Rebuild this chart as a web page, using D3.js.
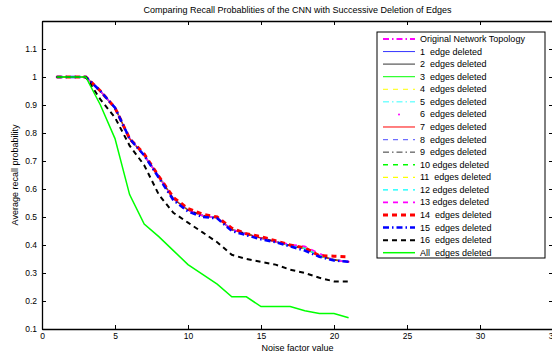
<!DOCTYPE html>
<html>
<head>
<meta charset="utf-8">
<script src="https://cdn.jsdelivr.net/npm/d3@7"></script>
<style>
  body { margin: 0; background: #fff; }
  svg { display: block; font-family: "Liberation Sans", Arial, Helvetica, sans-serif; }
</style>
</head>
<body>
<div id="chart"></div>
<script>
// noise factor values
const noise = [1, 2, 3, 4, 5, 6, 7, 8, 9, 10, 11, 12, 13, 14, 15, 16, 17, 18, 19, 20, 21];

// recall curves (most topologies overlap almost exactly)
const mainRecall = [1, 1, 1, 0.95, 0.89, 0.78, 0.72, 0.645, 0.565, 0.525, 0.505, 0.497, 0.455, 0.44, 0.425, 0.412, 0.398, 0.388, 0.362, 0.347, 0.34];
const recall13 = [1, 1, 1, 0.95, 0.89, 0.78, 0.72, 0.645, 0.565, 0.525, 0.505, 0.497, 0.455, 0.44, 0.425, 0.412, 0.402, 0.395, 0.37, 0.345, 0.34];
const recall14 = [1, 1, 1, 0.95, 0.89, 0.78, 0.725, 0.645, 0.57, 0.53, 0.51, 0.5, 0.46, 0.44, 0.43, 0.415, 0.4, 0.39, 0.362, 0.36, 0.358];
const recall15 = [1, 1, 1, 0.95, 0.89, 0.78, 0.72, 0.64, 0.56, 0.52, 0.5, 0.495, 0.45, 0.435, 0.42, 0.41, 0.395, 0.38, 0.358, 0.345, 0.34];
const recall16 = [1, 1, 1, 0.92, 0.855, 0.755, 0.685, 0.58, 0.515, 0.48, 0.445, 0.41, 0.365, 0.35, 0.34, 0.33, 0.312, 0.3, 0.283, 0.27, 0.27];
const recallAll = [1, 1, 1, 0.9, 0.78, 0.58, 0.475, 0.43, 0.38, 0.33, 0.295, 0.26, 0.215, 0.215, 0.18, 0.18, 0.18, 0.165, 0.155, 0.155, 0.14];

const legendLabels = [
  'Original Network Topology', '1  edge deleted', '2  edges deleted', '3  edges deleted',
  '4  edges deleted', '5  edges deleted', '6  edges deleted', '7  edges deleted',
  '8  edges deleted', '9  edges deleted', '10 edges deleted', '11  edges deleted',
  '12 edges deleted', '13 edges deleted', '14  edges deleted', '15  edges deleted',
  '16  edges deleted', 'All  edges deleted'
];
const seriesValues = [
  mainRecall, mainRecall, mainRecall, mainRecall, mainRecall, mainRecall, mainRecall, mainRecall,
  mainRecall, mainRecall, mainRecall, mainRecall, mainRecall, recall13, recall14, recall15,
  recall16, recallAll
];

const xTicks = [0, 5, 10, 15, 20, 25, 30, 35];
const yTicks = [0.1, 0.2, 0.3, 0.4, 0.5, 0.6, 0.7, 0.8, 0.9, 1, 1.1];

// line styles (matlab-ish)
const DASH = '5,5';
const DASHDOT = '6,3,1.5,3';
const styles = [
  { color: '#ff00ff', width: 2, dash: DASHDOT },
  { color: '#0000ff', width: 0.8, dash: null },
  { color: '#808080', width: 1.6, dash: null },
  { color: '#00ff00', width: 1, dash: null },
  { color: '#ffff00', width: 1, dash: DASH },
  { color: '#00ffff', width: 0.8, dash: DASHDOT },
  { color: '#ff00ff', width: 0, dash: null, dot: true },
  { color: '#ff0000', width: 1, dash: null },
  { color: '#6f6fff', width: 1.2, dash: DASH },
  { color: '#000000', width: 0.8, dash: DASHDOT },
  { color: '#00ff00', width: 1.6, dash: DASH },
  { color: '#ffff00', width: 1.2, dash: DASH },
  { color: '#00ffff', width: 1.2, dash: DASH },
  { color: '#ff00ff', width: 1.6, dash: DASH },
  { color: '#ff0000', width: 3, dash: '5,4' },
  { color: '#0000ff', width: 2.5, dash: DASHDOT },
  { color: '#000000', width: 2, dash: '5,4' },
  { color: '#00ff00', width: 1.5, dash: null }
];

const W = 552, H = 358;
const margin = { top: 21, bottom: 29, left: 42, right: -1 };
const plotW = W - margin.left - margin.right;
const plotH = H - margin.top - margin.bottom;

const svg = d3.select('#chart').append('svg')
  .attr('width', W)
  .attr('height', H);

const xScale = d3.scaleLinear().domain([0, 35]).range([margin.left, margin.left + plotW]);
const yScale = d3.scaleLinear().domain([0.1, 1.2]).range([margin.top + plotH, margin.top]);

// title
svg.append('text')
  .attr('x', (xScale(0) + xScale(35)) / 2)
  .attr('y', 13)
  .attr('text-anchor', 'middle')
  .style('font-size', '9px')
  .text('Comparing Recall Probablities of the CNN with Successive Deletion of Edges');

// lines
const line = d3.line()
  .x((d, i) => xScale(noise[i]))
  .y(d => yScale(d));

const lineGroup = svg.append('g').classed('lines', true);
seriesValues.forEach((vals, k) => {
  const st = styles[k];
  if (st.dot) {
    lineGroup.append('g').selectAll('circle')
      .data(vals)
      .enter().append('circle')
      .attr('cx', (d, i) => xScale(noise[i]))
      .attr('cy', d => yScale(d))
      .attr('r', 1)
      .style('fill', st.color);
  } else {
    lineGroup.append('path')
      .datum(vals)
      .attr('d', line)
      .style('fill', 'none')
      .style('stroke', st.color)
      .style('stroke-width', st.width)
      .style('stroke-dasharray', st.dash);
  }
});

// axes box
const xAxisB = d3.axisBottom(xScale).tickValues(xTicks).tickSizeInner(-4).tickSizeOuter(0).tickPadding(4).tickFormat(d3.format('d'));
const xAxisT = d3.axisTop(xScale).tickValues(xTicks).tickSizeInner(-4).tickSizeOuter(0).tickFormat('');
const yAxisL = d3.axisLeft(yScale).tickValues(yTicks).tickSizeInner(-4).tickSizeOuter(0).tickPadding(5).tickFormat(d => d3.format('')(+d.toFixed(1)));
const yAxisR = d3.axisRight(yScale).tickValues(yTicks).tickSizeInner(-4).tickSizeOuter(0).tickFormat('');

svg.append('g').classed('axis', true).attr('transform', `translate(0,${margin.top + plotH})`).call(xAxisB);
svg.append('g').classed('axis', true).attr('transform', `translate(0,${margin.top})`).call(xAxisT);
svg.append('g').classed('axis', true).attr('transform', `translate(${margin.left},0)`).call(yAxisL);
svg.append('g').classed('axis', true).attr('transform', `translate(${margin.left + plotW},0)`).call(yAxisR);

svg.selectAll('.axis text')
  .style('font-family', '"Liberation Sans", Arial, sans-serif')
  .style('font-size', '8.5px')
  .style('fill', '#000');
svg.selectAll('.axis path')
  .style('stroke', '#000')
  .style('stroke-width', 1.3);
svg.selectAll('.axis line')
  .style('stroke', '#000');

// axis labels
svg.append('text')
  .attr('x', (xScale(0) + xScale(35)) / 2)
  .attr('y', 351)
  .attr('text-anchor', 'middle')
  .style('font-size', '9px')
  .text('Noise factor value');

svg.append('text')
  .attr('transform', `translate(18,${margin.top + plotH / 2}) rotate(-90)`)
  .attr('text-anchor', 'middle')
  .style('font-size', '9px')
  .text('Average recall probability');

// legend
const legend = svg.append('g').classed('legend', true);
const lx = 377, ly = 32, lw = 168, lh = 226;
legend.append('rect')
  .attr('x', lx).attr('y', ly)
  .attr('width', lw).attr('height', lh)
  .style('fill', '#fff')
  .style('stroke', '#000')
  .style('stroke-width', 1);

const rowY = d3.scaleLinear().domain([0, legendLabels.length - 1]).range([39, 252.7]);
legendLabels.forEach((lab, k) => {
  const st = styles[k];
  const yy = rowY(k);
  if (st.dot) {
    legend.append('circle').attr('cx', 399).attr('cy', yy).attr('r', 1).style('fill', st.color);
  } else {
    legend.append('line')
      .attr('x1', 383).attr('x2', 415)
      .attr('y1', yy).attr('y2', yy)
      .style('stroke', st.color)
      .style('stroke-width', st.width)
      .style('stroke-dasharray', st.dash);
  }
  legend.append('text')
    .attr('x', 420)
    .attr('y', yy + 3)
    .style('font-size', '9px')
    .style('white-space', 'pre')
    .text(lab);
});
</script>
</body>
</html>
